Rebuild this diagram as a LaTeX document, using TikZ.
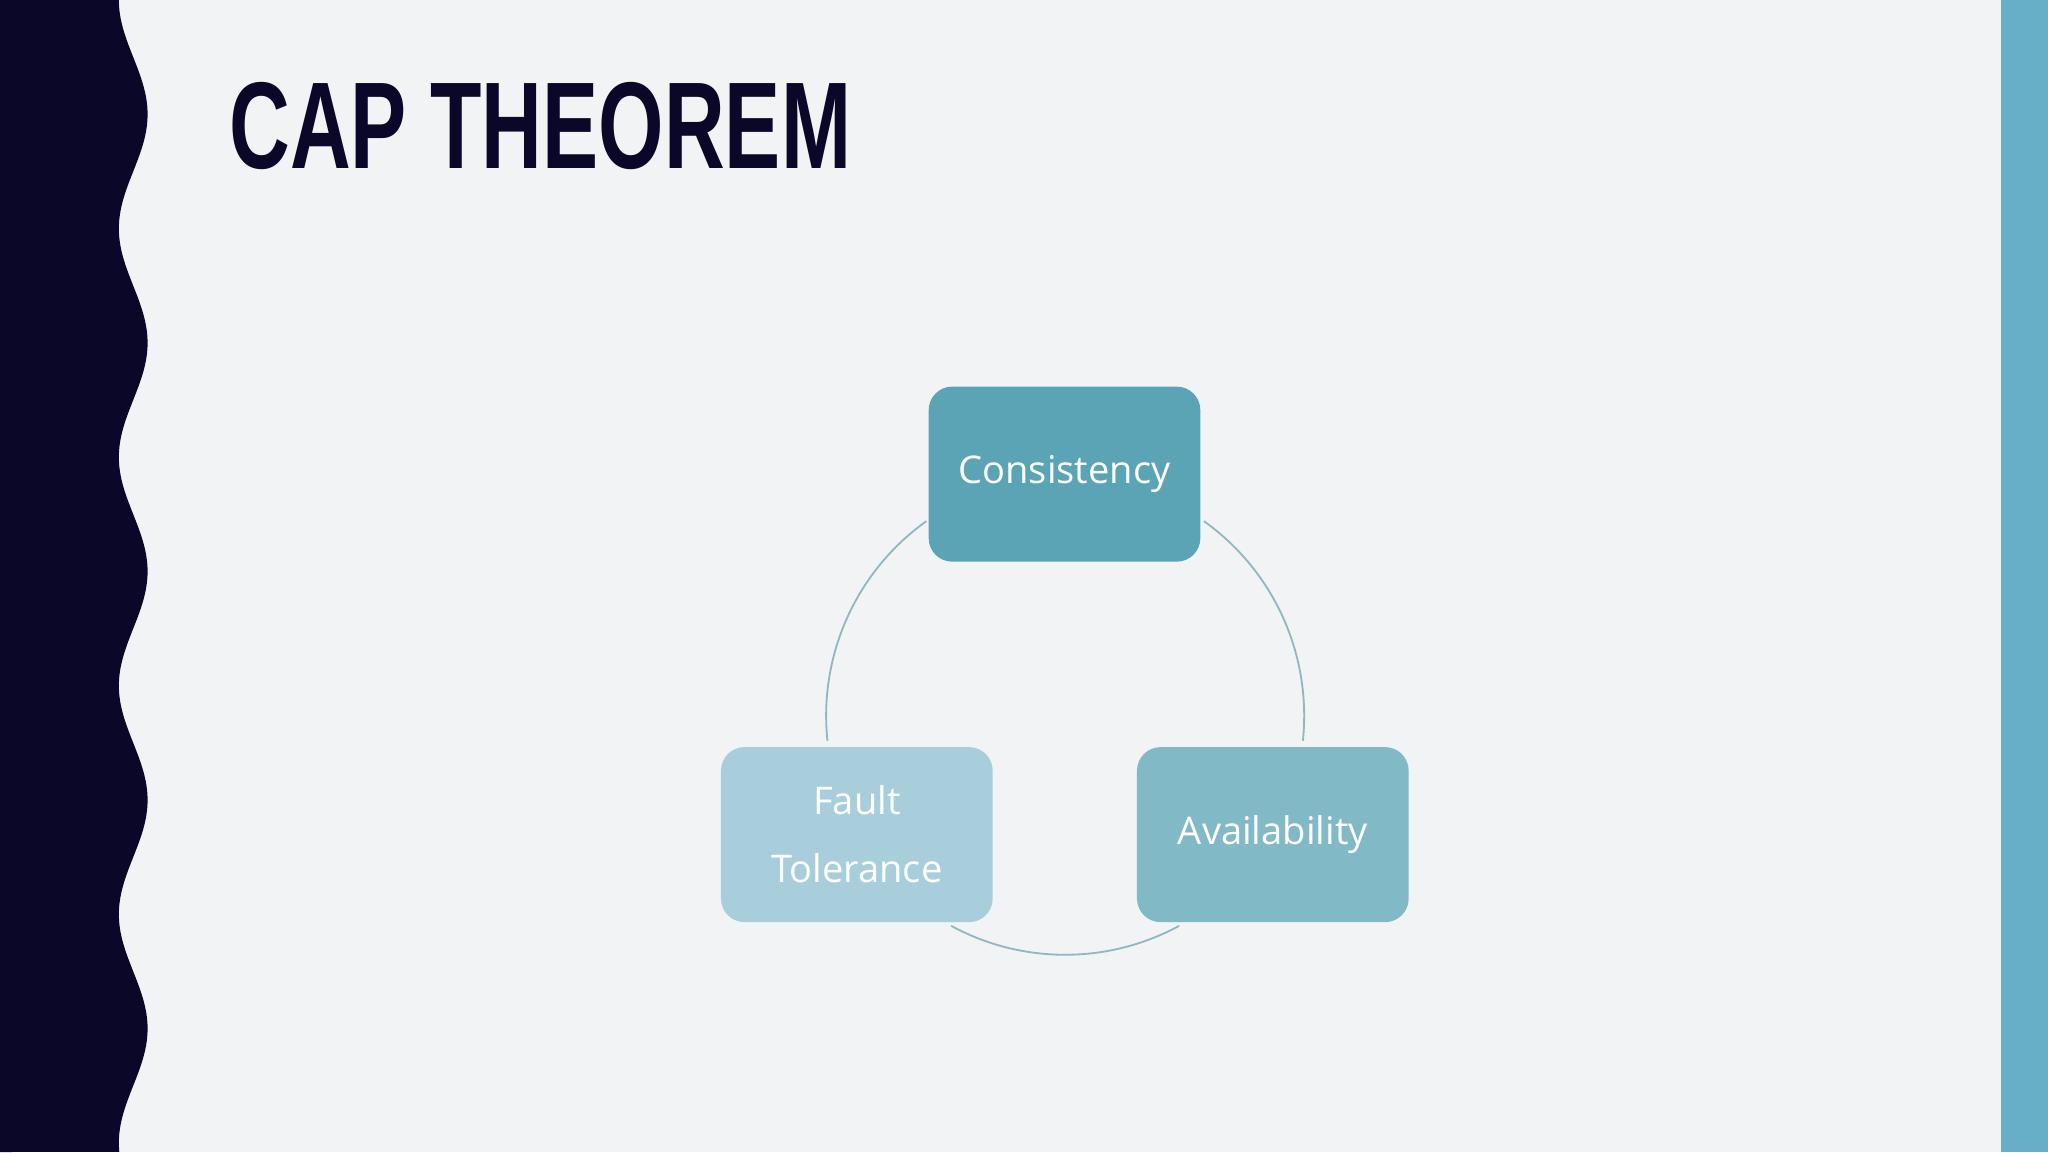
\documentclass[tikz,border=0pt]{standalone}
\usepackage{fontspec}
\setmainfont{Open Sans}
\newfontfamily\titlefont{Liberation Sans}
\definecolor{bg}{HTML}{F2F3F5}
\definecolor{navy}{HTML}{0B0728}
\definecolor{bar}{HTML}{67AFC7}
\definecolor{cC}{HTML}{5BA4B5}
\definecolor{cA}{HTML}{82B9C7}
\definecolor{cF}{HTML}{A8CEDB}
\definecolor{ring}{HTML}{8FB8C0}
\tikzset{capbox/.style={rounded corners=0.18cm,minimum width=2.08cm,minimum height=1.34cm,text=white,font=\fontsize{8.3}{14.8}\selectfont,align=center,inner sep=0pt},
ringline/.style={draw=ring,line width=0.4pt}}
\begin{document}
\begin{tikzpicture}
\useasboundingbox (0,0) rectangle (15.68,8.82);
\fill[bg] (0,0) rectangle (15.68,8.82);
\fill[navy] (0,8.82) -- plot[domain=0:8.82,samples=200,smooth] ({1.02-0.11*cos(deg(2*pi*\x/1.75))},{8.82-\x}) -- (0,0) -- cycle;
\fill[bar] (15.32,0) rectangle (15.68,8.82);
\node[anchor=north west,inner sep=0pt,text=navy] (title) at (1.75,8.20) {\resizebox{4.76cm}{0.66cm}{\titlefont\bfseries CAP THEOREM}};
\coordinate (ctr) at (8.155,3.34);
\draw[ringline] (ctr) ++(125.5:1.83) arc[start angle=125.5,end angle=186,radius=1.83];
\draw[ringline] (ctr) ++(54.5:1.83) arc[start angle=54.5,end angle=-6,radius=1.83];
\draw[ringline] (ctr) ++(241.5:1.83) arc[start angle=241.5,end angle=298.5,radius=1.83];
\node[capbox,fill=cC] (C) at (8.15,5.19) {Consistency};
\node[capbox,fill=cA] (A) at (9.745,2.43) {Availability};
\node[capbox,fill=cF] (F) at (6.56,2.43) {Fault\\Tolerance};
\end{tikzpicture}
\end{document}
